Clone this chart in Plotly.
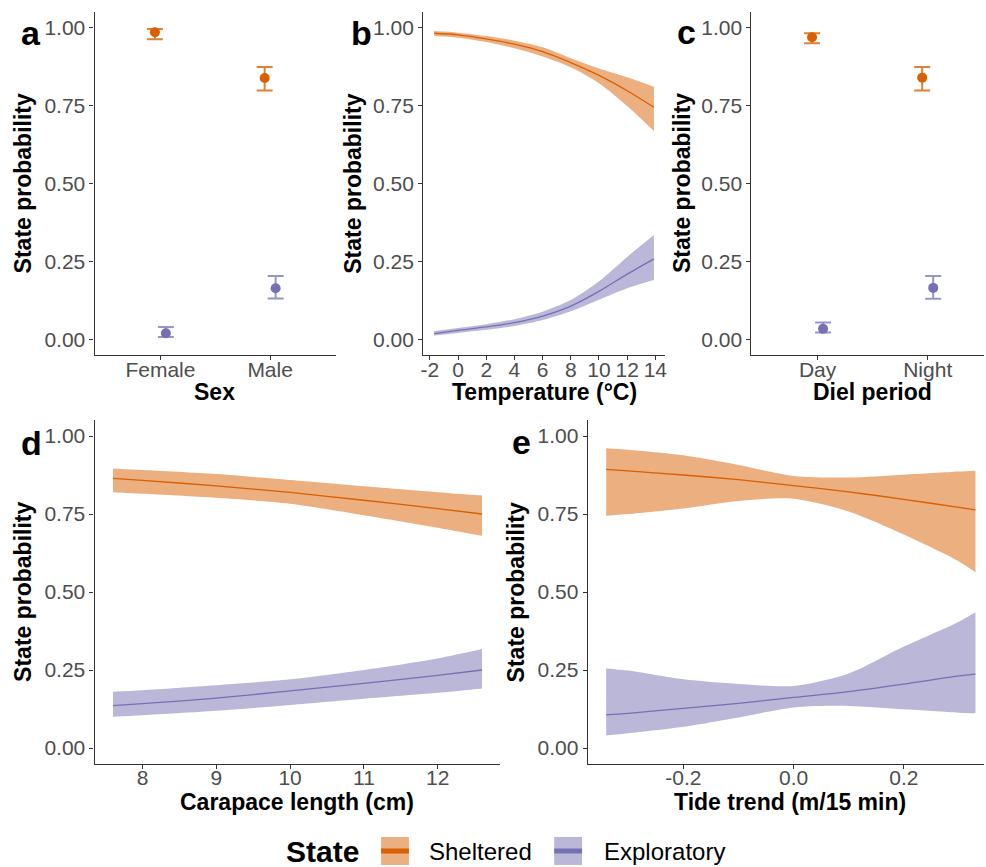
import plotly.graph_objects as go

# ---------------- data ----------------
# panel a: sex
sex_levels = ["Female", "Male"]
sex_sheltered = [0.984, 0.838]
sex_sheltered_lo = [0.962, 0.798]
sex_sheltered_hi = [0.995, 0.873]
sex_exploratory = [0.021, 0.165]
sex_exploratory_lo = [0.009, 0.132]
sex_exploratory_hi = [0.041, 0.204]

# panel b: temperature
temp_c = [-1.7, 0, 2, 4, 6, 8, 10, 12, 13.9]
temp_sheltered = [0.981, 0.976, 0.963, 0.946, 0.922, 0.887, 0.846, 0.797, 0.744]
temp_sheltered_hi = [0.988, 0.983, 0.972, 0.957, 0.936, 0.901, 0.868, 0.840, 0.810]
temp_sheltered_lo = [0.972, 0.967, 0.953, 0.933, 0.907, 0.872, 0.821, 0.748, 0.668]
temp_exploratory = [0.020, 0.030, 0.041, 0.055, 0.076, 0.108, 0.155, 0.210, 0.259]
temp_exploratory_hi = [0.028, 0.038, 0.050, 0.066, 0.090, 0.127, 0.187, 0.265, 0.335]
temp_exploratory_lo = [0.014, 0.022, 0.032, 0.044, 0.063, 0.091, 0.128, 0.165, 0.191]

# panel c: diel period
diel_levels = ["Day", "Night"]
diel_sheltered = [0.968, 0.839]
diel_sheltered_lo = [0.949, 0.798]
diel_sheltered_hi = [0.981, 0.873]
diel_exploratory = [0.035, 0.166]
diel_exploratory_lo = [0.023, 0.131]
diel_exploratory_hi = [0.055, 0.204]

# panel d: carapace length
carapace_cm = [7.6, 8, 9, 10, 11, 12, 12.6]
cara_sheltered = [0.864, 0.858, 0.840, 0.819, 0.794, 0.767, 0.750]
cara_sheltered_hi = [0.896, 0.891, 0.878, 0.859, 0.839, 0.820, 0.809]
cara_sheltered_lo = [0.820, 0.815, 0.802, 0.783, 0.746, 0.706, 0.680]
cara_exploratory = [0.136, 0.142, 0.160, 0.183, 0.207, 0.233, 0.250]
cara_exploratory_hi = [0.180, 0.185, 0.201, 0.220, 0.250, 0.287, 0.317]
cara_exploratory_lo = [0.100, 0.105, 0.119, 0.138, 0.158, 0.177, 0.191]

# panel e: tide trend
tide_trend = [-0.34, -0.3, -0.2, -0.1, 0.0, 0.1, 0.2, 0.3, 0.33]
tide_sheltered = [0.893, 0.888, 0.875, 0.860, 0.841, 0.821, 0.797, 0.771, 0.763]
tide_sheltered_hi = [0.961, 0.956, 0.938, 0.907, 0.872, 0.867, 0.876, 0.886, 0.889]
tide_sheltered_lo = [0.744, 0.750, 0.768, 0.792, 0.799, 0.758, 0.684, 0.598, 0.563]
tide_exploratory = [0.106, 0.111, 0.127, 0.143, 0.162, 0.181, 0.205, 0.231, 0.237]
tide_exploratory_hi = [0.255, 0.248, 0.220, 0.205, 0.199, 0.239, 0.325, 0.405, 0.435]
tide_exploratory_lo = [0.040, 0.047, 0.068, 0.098, 0.130, 0.135, 0.124, 0.113, 0.111]

prob_ticks = [0, 0.25, 0.5, 0.75, 1.0]
prob_ticktext = ["0.00", "0.25", "0.50", "0.75", "1.00"]
temp_ticks = [-2, 0, 2, 4, 6, 8, 10, 12, 14]
temp_ticktext = ["-2", "0", "2", "4", "6", "8", "10", "12", "14"]
cara_ticks = [8, 9, 10, 11, 12]
cara_ticktext = ["8", "9", "10", "11", "12"]
tide_ticks = [-0.2, 0.0, 0.2]
tide_ticktext = ["-0.2", "0.0", "0.2"]

# ---------------- style ----------------
ORANGE = "#D95F02"
PURPLE = "#7570B3"
ORANGE_FILL = "rgba(217,95,2,0.5)"
PURPLE_FILL = "rgba(117,112,179,0.5)"
ORANGE_BAR = "rgba(217,95,2,0.8)"
PURPLE_BAR = "rgba(117,112,179,0.75)"
AX = "#333333"
TICK_COL = "#4D4D4D"
FONT = "Liberation Sans, Arial, Helvetica, sans-serif"
W, H = 986, 867


def fx(p):
    return p / W


def fy(p):
    return 1 - p / H


fig = go.Figure()


def add_points(xr, yr, levels, mean, lo, hi, color, barcolor, offset):
    xs = [i + 1 + offset for i in range(len(levels))]
    fig.add_trace(go.Scatter(
        x=xs, y=mean, mode="markers",
        marker=dict(color=color, size=10),
        error_y=dict(type="data", symmetric=False,
                     array=[h - m for h, m in zip(hi, mean)],
                     arrayminus=[m - l for m, l in zip(mean, lo)],
                     color=barcolor, thickness=2, width=8),
        xaxis=xr, yaxis=yr, showlegend=False, hoverinfo="skip"))


def add_ribbon(xr, yr, x, mean, lo, hi, color, fill):
    fig.add_trace(go.Scatter(x=x, y=hi, mode="lines",
                             line=dict(width=0, shape="spline", smoothing=0.8, color=fill),
                             xaxis=xr, yaxis=yr, showlegend=False, hoverinfo="skip"))
    fig.add_trace(go.Scatter(x=x, y=lo, mode="lines",
                             line=dict(width=0, shape="spline", smoothing=0.8, color=fill),
                             fill="tonexty", fillcolor=fill,
                             xaxis=xr, yaxis=yr, showlegend=False, hoverinfo="skip"))
    fig.add_trace(go.Scatter(x=x, y=mean, mode="lines",
                             line=dict(width=1.3, shape="spline", smoothing=0.8, color=color),
                             xaxis=xr, yaxis=yr, showlegend=False, hoverinfo="skip"))


DODGE = 0.05
# a
add_points("x", "y", sex_levels, sex_sheltered, sex_sheltered_lo, sex_sheltered_hi, ORANGE, ORANGE_BAR, -DODGE)
add_points("x", "y", sex_levels, sex_exploratory, sex_exploratory_lo, sex_exploratory_hi, PURPLE, PURPLE_BAR, DODGE)
# b
add_ribbon("x2", "y2", temp_c, temp_sheltered, temp_sheltered_lo, temp_sheltered_hi, ORANGE, ORANGE_FILL)
add_ribbon("x2", "y2", temp_c, temp_exploratory, temp_exploratory_lo, temp_exploratory_hi, PURPLE, PURPLE_FILL)
# c
add_points("x3", "y3", diel_levels, diel_sheltered, diel_sheltered_lo, diel_sheltered_hi, ORANGE, ORANGE_BAR, -DODGE)
add_points("x3", "y3", diel_levels, diel_exploratory, diel_exploratory_lo, diel_exploratory_hi, PURPLE, PURPLE_BAR, DODGE)
# d
add_ribbon("x4", "y4", carapace_cm, cara_sheltered, cara_sheltered_lo, cara_sheltered_hi, ORANGE, ORANGE_FILL)
add_ribbon("x4", "y4", carapace_cm, cara_exploratory, cara_exploratory_lo, cara_exploratory_hi, PURPLE, PURPLE_FILL)
# e
add_ribbon("x5", "y5", tide_trend, tide_sheltered, tide_sheltered_lo, tide_sheltered_hi, ORANGE, ORANGE_FILL)
add_ribbon("x5", "y5", tide_trend, tide_exploratory, tide_exploratory_lo, tide_exploratory_hi, PURPLE, PURPLE_FILL)

axis_common = dict(showline=True, linecolor=AX, linewidth=1.1, ticks="outside", ticklen=4,
                   tickwidth=1.1, tickcolor=AX, showgrid=False, zeroline=False,
                   tickfont=dict(size=21, color=TICK_COL, family=FONT), fixedrange=True)
xaxis_common = dict(axis_common, ticklabelstandoff=-9)
yaxis_common = dict(axis_common, range=[-0.05, 1.05], tickvals=prob_ticks, ticktext=prob_ticktext)

TOP = [fy(355.4), fy(11.7)]
BOT = [fy(763.6), fy(420.4)]

layout = dict(
    width=W, height=H, autosize=False,
    margin=dict(l=0, r=0, t=0, b=0, pad=0),
    paper_bgcolor="white", plot_bgcolor="white",
    font=dict(family=FONT, color="black"),
    showlegend=False,
    xaxis=dict(xaxis_common, domain=[fx(92), fx(334.7)], range=[0.4, 2.6],
               tickvals=[1, 2], ticktext=sex_levels, anchor="y"),
    yaxis=dict(yaxis_common, domain=TOP, anchor="x"),
    xaxis2=dict(xaxis_common, domain=[fx(422.3), fx(665.3)], range=[-2.48, 14.68],
                tickvals=temp_ticks, ticktext=temp_ticktext, anchor="y2"),
    yaxis2=dict(yaxis_common, domain=TOP, anchor="x2"),
    xaxis3=dict(xaxis_common, domain=[fx(752.3), 1.0], range=[0.4, 2.511],
                tickvals=[1, 2], ticktext=diel_levels, anchor="y3"),
    yaxis3=dict(yaxis_common, domain=TOP, anchor="x3"),
    xaxis4=dict(xaxis_common, domain=[fx(92), fx(500)], range=[7.35, 12.85],
                tickvals=cara_ticks, ticktext=cara_ticktext, anchor="y4"),
    yaxis4=dict(yaxis_common, domain=BOT, anchor="x4"),
    xaxis5=dict(xaxis_common, domain=[fx(587.7), 1.0], range=[-0.3735, 0.3455],
                tickvals=tide_ticks, ticktext=tide_ticktext, anchor="y5"),
    yaxis5=dict(yaxis_common, domain=BOT, anchor="x5"),
)
fig.update_layout(**layout)

ann = []
# panel letters
for letter, x, y in [("a", 16, 33), ("b", 348, 33), ("c", 675, 32), ("d", 16, 443), ("e", 510, 442)]:
    ann.append(dict(text="<b>%s</b>" % letter, x=fx(x), y=fy(y), xref="paper", yref="paper",
                    xanchor="left", yanchor="middle", showarrow=False,
                    font=dict(size=34, color="black", family=FONT)))
# y titles
for x, y in [(20, 183.5), (351, 183.5), (682, 183.5), (20, 592), (516, 592)]:
    ann.append(dict(text="<b>State probability</b>", x=fx(x), y=fy(y), xref="paper", yref="paper",
                    xanchor="center", yanchor="middle", textangle=-90, showarrow=False,
                    font=dict(size=23, color="black", family=FONT)))
# x titles
for t, x, y in [("Sex", 213, 392), ("Temperature (°C)", 544, 392), ("Diel period", 874, 392),
                ("Carapace length (cm)", 296, 802), ("Tide trend (m/15 min)", 791, 802)]:
    ann.append(dict(text="<b>%s</b>" % t, x=fx(x), y=fy(y), xref="paper", yref="paper",
                    xanchor="center", yanchor="middle", showarrow=False,
                    font=dict(size=23, color="black", family=FONT)))

# legend (drawn manually)
LEG_Y = 851
ann.append(dict(text="<b>State</b>", x=fx(282), y=fy(LEG_Y), xref="paper", yref="paper",
                xanchor="left", yanchor="middle", showarrow=False,
                font=dict(size=30, color="black", family=FONT)))
ann.append(dict(text="Sheltered", x=fx(426), y=fy(LEG_Y), xref="paper", yref="paper",
                xanchor="left", yanchor="middle", showarrow=False,
                font=dict(size=24, color="black", family=FONT)))
ann.append(dict(text="Exploratory", x=fx(602), y=fy(LEG_Y), xref="paper", yref="paper",
                xanchor="left", yanchor="middle", showarrow=False,
                font=dict(size=24, color="black", family=FONT)))
shapes = []
for x0, fill, col in [(380, ORANGE_FILL, ORANGE), (554, PURPLE_FILL, PURPLE)]:
    shapes.append(dict(type="rect", xref="paper", yref="paper", x0=fx(x0), x1=fx(x0 + 28),
                       y0=fy(865), y1=fy(837), fillcolor=fill, line=dict(width=0)))
    shapes.append(dict(type="line", xref="paper", yref="paper", x0=fx(x0), x1=fx(x0 + 28),
                       y0=fy(LEG_Y), y1=fy(LEG_Y), line=dict(color=col, width=5)))

fig.update_layout(annotations=ann, shapes=shapes)

fig.write_html("out.html", config={"displayModeBar": False},
               post_script="document.body.style.margin='0';document.body.style.overflow='hidden';")
